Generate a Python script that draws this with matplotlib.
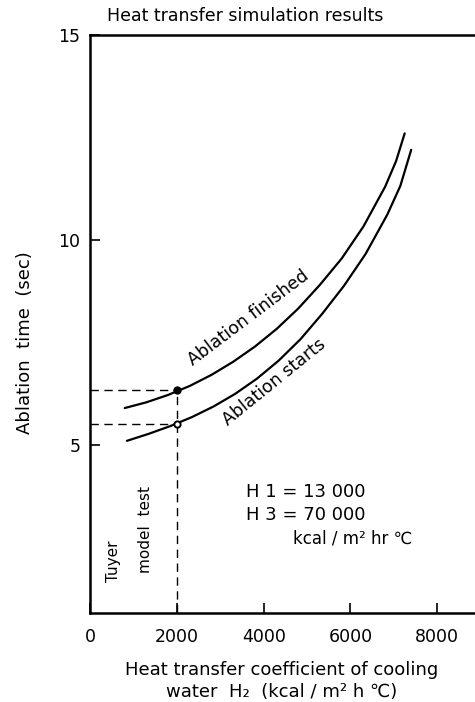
import matplotlib

matplotlib.use("Agg")
import matplotlib.pyplot as plt

# Curves (H2 in kcal/m2 h C, ablation time in sec)
finished_x = [800, 1300, 1800, 2300, 2800, 3300, 3800, 4300, 4800, 5300, 5800, 6300,
              6800, 7050, 7250]
finished_y = [5.9, 6.04, 6.22, 6.44, 6.71, 7.03, 7.4, 7.83, 8.33, 8.91, 9.55, 10.33,
              11.3, 11.92, 12.6]
starts_x = [850, 1350, 1850, 2350, 2850, 3350, 3850, 4350, 4850, 5350, 5850, 6350,
            6850, 7150, 7400]
starts_y = [5.1, 5.27, 5.46, 5.68, 5.94, 6.25, 6.62, 7.06, 7.58, 8.2, 8.88, 9.66,
            10.62, 11.32, 12.2]

# tuyere model test point
test_x = 2000
test_finished = 6.33
test_starts = 5.5

x_ticks = [0, 2000, 4000, 6000, 8000]
y_ticks = [5, 10, 15]

FONT = "DejaVu Sans"

fig = plt.figure(figsize=(4.75, 7.02), dpi=100)
ax = fig.add_axes([0.1895, 0.1268, 0.8105, 0.8233])

ax.plot(finished_x, finished_y, color="black", lw=1.6, solid_capstyle="round",
        solid_joinstyle="round")
ax.plot(starts_x, starts_y, color="black", lw=1.6, solid_capstyle="round",
        solid_joinstyle="round")

dash = dict(color="black", lw=1.0, dashes=(6, 4))
ax.plot([0, test_x], [test_finished, test_finished], **dash)
ax.plot([0, test_x], [test_starts, test_starts], **dash)
ax.plot([test_x, test_x], [0.9, test_finished], **dash)
ax.plot([test_x], [test_finished], "o", color="black", ms=5)
ax.plot([test_x], [test_starts], "o", mfc="white", mec="black", mew=1.4, ms=4.5)

ax.set_xlim(0, 8870)
ax.set_ylim(0.9, 15)
ax.set_xticks(x_ticks)
ax.set_yticks(y_ticks)
ax.set_xticklabels([str(v) for v in x_ticks], fontsize=12.5, family=FONT)
ax.set_yticklabels([str(v) for v in y_ticks], fontsize=12.5, family=FONT)
ax.tick_params(direction="in", length=7, width=1.2)
ax.tick_params(axis="x", pad=11)
ax.tick_params(axis="y", pad=7)
ax.spines["right"].set_visible(False)
for s in ("left", "bottom", "top"):
    ax.spines[s].set_linewidth(1.8)

ax.text(3655, 8.1, "Ablation finished", rotation=37, ha="center", va="center",
        fontsize=12.5, family=FONT)
ax.text(4250, 6.54, "Ablation starts", rotation=39, ha="center", va="center",
        fontsize=12.5, family=FONT)

ax.text(3586, 3.85, "H 1 = 13 000", ha="left", va="center", fontsize=13, family=FONT)
ax.text(3586, 3.29, "H 3 = 70 000", ha="left", va="center", fontsize=13, family=FONT)
ax.text(4667, 2.71, "kcal / m² hr ℃", ha="left", va="center", fontsize=12, family=FONT)

ax.text(552, 2.17, "Tuyer", rotation=90, ha="center", va="center", fontsize=11,
        family=FONT)
ax.text(1287, 2.93, "model  test", rotation=90, ha="center", va="center", fontsize=11,
        family=FONT)

fig.text(245 / 475, 1 - 16 / 702, "Heat transfer simulation results", ha="center",
         va="center", fontsize=12.5, family=FONT)
fig.text(25 / 475, 1 - 343 / 702, "Ablation  time  (sec)", rotation=90, ha="center",
         va="center", fontsize=13, family=FONT)
fig.text(282 / 475, 1 - 670 / 702, "Heat transfer coefficient of cooling", ha="center",
         va="center", fontsize=13, family=FONT)
fig.text(282 / 475, 1 - 692 / 702, "water  H₂  (kcal / m² h ℃)", ha="center",
         va="center", fontsize=13, family=FONT)

fig.savefig("out.png", dpi=100)
